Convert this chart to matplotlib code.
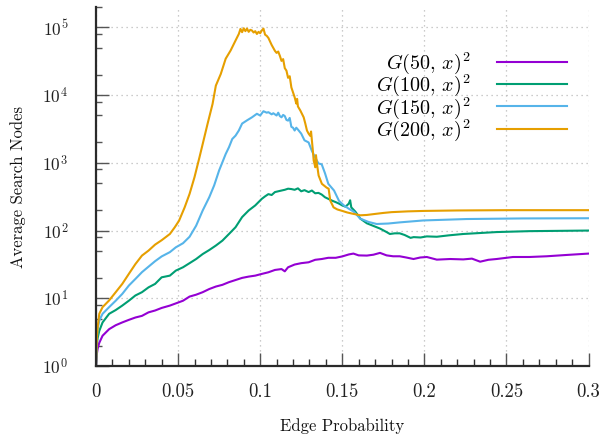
import numpy as np
import matplotlib
matplotlib.use("Agg")
import matplotlib.pyplot as plt
from matplotlib.ticker import FixedLocator

plt.rcParams['font.family'] = ['cmr10', 'DejaVu Serif']
plt.rcParams['mathtext.fontset'] = 'cm'
plt.rcParams['axes.formatter.use_mathtext'] = True

# ---- data ----
x200 = [0, 0.0005, 0.001, 0.002, 0.004, 0.008, 0.012, 0.016, 0.020, 0.024, 0.028, 0.032, 0.036,
        0.040, 0.045, 0.048, 0.0506, 0.054, 0.057, 0.060, 0.063, 0.065, 0.068, 0.071, 0.073,
        0.076, 0.079, 0.082, 0.085, 0.087, 0.088, 0.089, 0.090, 0.091, 0.092, 0.093, 0.094,
        0.095, 0.096, 0.097, 0.098, 0.099, 0.100, 0.101, 0.102, 0.103, 0.104, 0.105, 0.107,
        0.109, 0.110, 0.111, 0.112, 0.113, 0.114, 0.115, 0.116, 0.117, 0.118, 0.119, 0.120,
        0.121, 0.122, 0.1225, 0.123, 0.1245, 0.1265, 0.1275, 0.1285, 0.1295, 0.1305, 0.131,
        0.132, 0.1326, 0.1336, 0.134, 0.1345, 0.1356, 0.1376, 0.139, 0.1405, 0.1417, 0.1427,
        0.1447, 0.147, 0.150, 0.153, 0.156, 0.159, 0.161, 0.165, 0.170, 0.175, 0.180, 0.190,
        0.200, 0.220, 0.250, 0.280, 0.300]
y200 = [1.0, 2.5, 3.7, 5.9, 7.4, 9.3, 12.3, 16.3, 22.9, 32, 42.7, 50.6, 62,
        72, 89, 112, 140, 220, 348, 614, 1200, 1900, 3800, 7400, 13800,
        20500, 34500, 45600, 64000, 80000, 95000, 85000, 97000, 88000, 96000, 86000, 92000,
        90000, 84000, 88000, 80000, 86000, 82000, 90000, 96000, 78000, 75000, 70000, 55000,
        45000, 42000, 44000, 38000, 32000, 34000, 25000, 23000, 18000, 19000, 13000, 11000,
        9300, 7500, 8800, 6800, 5900, 4700, 3800, 3000, 2700, 2500, 2900,
        1600, 1080, 860, 1300, 1000, 650, 490, 460, 430, 415, 277,
        220, 205, 195, 185, 178, 172, 168, 170, 176, 182, 187, 192,
        195, 198, 200, 200, 200]

x150 = [0, 0.0005, 0.001, 0.002, 0.004, 0.008, 0.012, 0.016, 0.020, 0.024, 0.028, 0.032, 0.036,
        0.040, 0.045, 0.0486, 0.053, 0.057, 0.061, 0.065, 0.069, 0.072, 0.075, 0.077, 0.079,
        0.081, 0.083, 0.085, 0.087, 0.089, 0.092, 0.095, 0.098, 0.100, 0.102, 0.104, 0.105,
        0.107, 0.108, 0.110, 0.111, 0.112, 0.113, 0.114, 0.115, 0.116, 0.117, 0.118, 0.119,
        0.120, 0.121, 0.122, 0.123, 0.125, 0.127, 0.1295, 0.1315, 0.1335, 0.1355, 0.1375,
        0.1395, 0.1415, 0.145, 0.148, 0.151, 0.154, 0.157, 0.161, 0.166, 0.171, 0.178, 0.185,
        0.1994, 0.2258, 0.26, 0.30]
y150 = [1.0, 2.5, 3.5, 4.7, 5.9, 7.4, 9.2, 11.6, 15.4, 19.3, 24.3, 29.3, 35.3,
        41.5, 48, 56.5, 65, 81, 118, 198, 311, 466, 773, 1020, 1350,
        1700, 2250, 2520, 3000, 3800, 4240, 4700, 5300, 5000, 5780, 5500, 5600,
        5200, 5400, 5000, 5500, 4900, 4700, 5100, 4900, 4300, 4200, 4600, 3400,
        3300, 3000, 3300, 3100, 2700, 2150, 2000, 1500, 1200, 980, 950,
        700, 490, 390, 275, 235, 210, 190, 150, 134, 125, 127, 132,
        141, 148, 151, 152]

x100 = [0, 0.0005, 0.001, 0.002, 0.004, 0.008, 0.012, 0.016, 0.020, 0.024, 0.028, 0.032, 0.036,
        0.040, 0.045, 0.0486, 0.053, 0.057, 0.061, 0.065, 0.069, 0.073, 0.077, 0.081, 0.085,
        0.089, 0.093, 0.097, 0.101, 0.103, 0.105, 0.107, 0.109, 0.111, 0.113, 0.115, 0.117,
        0.119, 0.121, 0.123, 0.125, 0.127, 0.1295, 0.1315, 0.1335, 0.1355, 0.1375, 0.1395,
        0.1415, 0.144, 0.146, 0.148, 0.150, 0.152, 0.154, 0.1548, 0.1555, 0.158, 0.161, 0.165,
        0.169, 0.173, 0.177, 0.179, 0.182, 0.185, 0.188, 0.1916, 0.1935, 0.1977, 0.2015,
        0.2076, 0.215, 0.2237, 0.244, 0.264, 0.30]
y100 = [1.0, 2.0, 2.6, 3.3, 4.4, 5.9, 6.7, 7.8, 9.2, 11, 12.3, 14.5, 16.3,
        20.4, 21.6, 25.6, 28.7, 33, 38, 45, 51.6, 60, 71, 89, 112,
        158, 198, 235, 294, 320, 345, 335, 370, 380, 390, 400, 415,
        410, 400, 420, 380, 395, 370, 390, 355, 360, 340, 310,
        294, 275, 263, 250, 235, 225, 250, 280, 220, 190, 150, 128,
        117, 107, 95, 89, 91, 91, 86, 78, 80, 79, 82,
        81, 85, 89, 95, 98, 100]

x50 = [0, 0.0005, 0.001, 0.002, 0.004, 0.008, 0.012, 0.016, 0.020, 0.024, 0.028, 0.032, 0.036,
       0.040, 0.045, 0.0486, 0.053, 0.057, 0.061, 0.065, 0.069, 0.073, 0.077, 0.081, 0.085,
       0.089, 0.093, 0.097, 0.101, 0.105, 0.109, 0.113, 0.115, 0.117, 0.121, 0.125, 0.1295,
       0.1335, 0.1375, 0.1415, 0.146, 0.150, 0.154, 0.1568, 0.160, 0.165, 0.169, 0.173,
       0.177, 0.181, 0.185, 0.189, 0.1934, 0.1975, 0.2015, 0.2076, 0.2157, 0.2237, 0.229,
       0.234, 0.239, 0.244, 0.254, 0.264, 0.2745, 0.2866, 0.30]
y50 = [1.0, 1.5, 1.8, 2.2, 2.8, 3.5, 4.0, 4.4, 4.8, 5.2, 5.5, 6.2, 6.6,
       7.2, 7.8, 8.4, 9.2, 10.6, 11.3, 12.3, 13.7, 14.9, 15.8, 17.3, 18.6,
       20, 20.9, 21.6, 22.9, 24.2, 26.2, 27, 25, 28.7, 31.5, 33, 34,
       37, 38, 39.6, 39.6, 41.5, 44.4, 45.7, 43, 42.7, 44, 46.8,
       43, 41.7, 41.7, 40, 38, 40, 40.7, 37.2, 38, 37.5, 38.5,
       34.7, 37, 38, 40.7, 40.7, 41.7, 43.6, 45.7]

series = [
    (x50, y50, r'$G(50,\,x)^2$', '#9400d3'),
    (x100, y100, r'$G(100,\,x)^2$', '#009e73'),
    (x150, y150, r'$G(150,\,x)^2$', '#56b4e9'),
    (x200, y200, r'$G(200,\,x)^2$', '#e69f00'),
]

xticks = [0, 0.05, 0.1, 0.15, 0.2, 0.25, 0.3]
xticklabels = ['0', '0.05', '0.1', '0.15', '0.2', '0.25', '0.3']
yticks = [1, 10, 100, 1000, 10000, 100000]
yticklabels = [r'$10^{0}$', r'$10^{1}$', r'$10^{2}$', r'$10^{3}$', r'$10^{4}$', r'$10^{5}$']

# ---- figure ----
fig = plt.figure(figsize=(6.03, 4.38), dpi=100)
ax = fig.add_axes([96/603, 1-366/438, (588.5-96)/603, (366-7)/438])

for xs, ys, lab, col in series:
    ax.plot(xs, ys, color=col, lw=1.5, label=lab)

ax.set_yscale('log')
ax.set_xlim(0, 0.3)
ax.set_ylim(1, 2.0e5)

ax.set_xticks(xticks)
ax.set_xticklabels(xticklabels)
ax.xaxis.set_minor_locator(FixedLocator(np.arange(0.01, 0.3, 0.01)))
ax.set_yticks(yticks)
ax.set_yticklabels(yticklabels)
yminor = [m * 10**e for e in range(0, 6) for m in (2, 5, 8)]
ax.yaxis.set_minor_locator(FixedLocator(yminor))
ax.yaxis.set_minor_formatter(plt.NullFormatter())

spine_col = '#2a2a2a'
for s in ['top', 'right']:
    ax.spines[s].set_visible(False)
for s in ['left', 'bottom']:
    ax.spines[s].set_color(spine_col)
    ax.spines[s].set_linewidth(1.6)

ax.tick_params(axis='x', which='major', direction='in', length=9.5, width=1.0,
               color='#555555', pad=12, labelsize=13.5, labelcolor='#222222')
ax.tick_params(axis='x', which='minor', direction='in', length=5, width=1.0, color='#333333')
ax.tick_params(axis='y', which='major', direction='in', length=9.5, width=1.0,
               color='#555555', pad=20, labelsize=12.5, labelcolor='#222222')
ax.tick_params(axis='y', which='minor', direction='in', length=4, width=1.0, color='#555555')

ax.grid(True, which='major', color='#bbbbbb', linestyle=(0, (1, 3)), linewidth=0.9)
ax.set_axisbelow(True)

ax.set_xlabel('Edge Probability', fontsize=12, labelpad=13, color='#111111')
ax.set_ylabel('Average Search Nodes', fontsize=12, labelpad=12, color='#111111')

leg = ax.legend(loc='upper right', bbox_to_anchor=(567/603, 1-50.5/438),
                bbox_transform=fig.transFigure, frameon=False, markerfirst=False,
                fontsize=14.5, handlelength=3.5, handletextpad=1.3,
                labelspacing=-0.17, borderpad=0, borderaxespad=0)

fig.savefig('out.png', dpi=100)
